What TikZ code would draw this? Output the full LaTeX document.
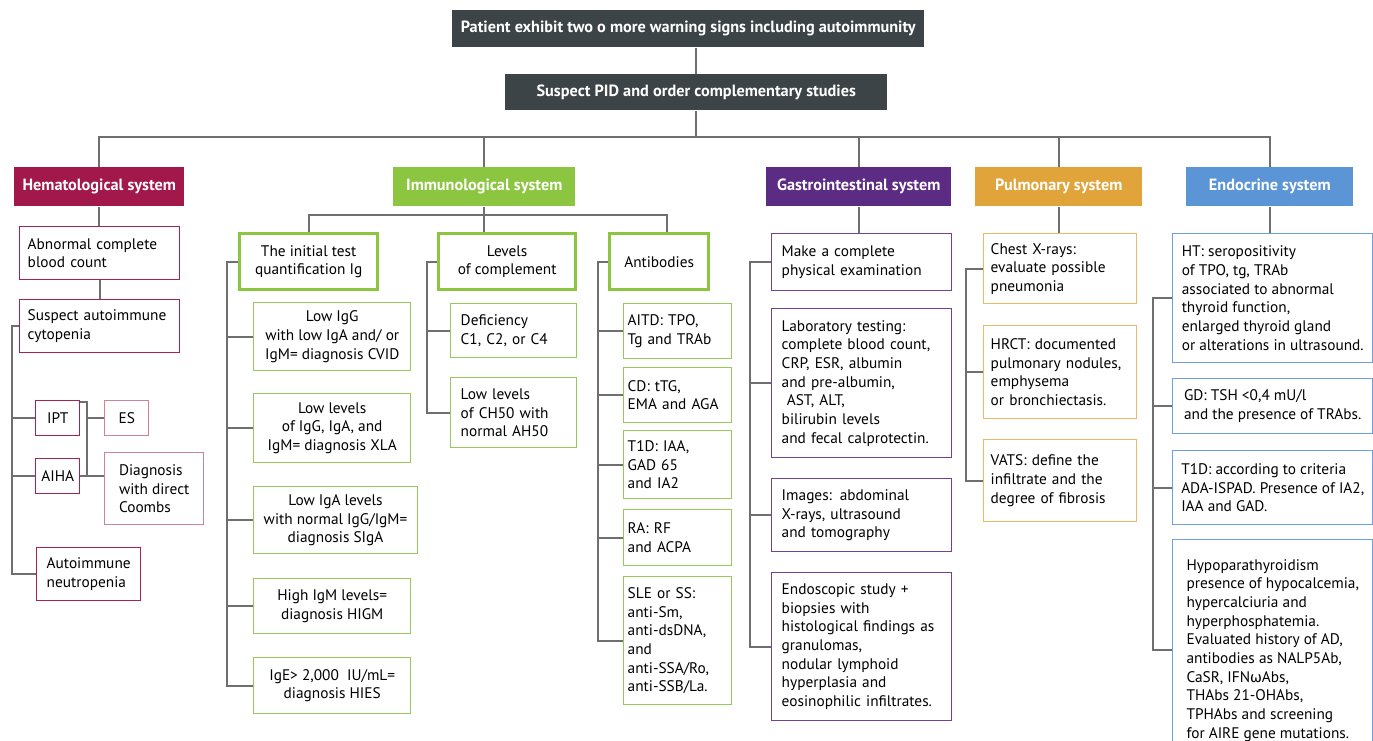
\documentclass[tikz,border=0pt]{standalone}
\usepackage{fontspec}
\setmainfont{PT Sans}
\newfontfamily\greekfont{DejaVu Sans}[Scale=0.92]
\usepackage{xcolor}
\usetikzlibrary{calc}
\usetikzlibrary{positioning}

\definecolor{darkbox}{HTML}{3D4447}
\definecolor{linegray}{HTML}{6F6F6F}
\definecolor{hemc}{HTML}{A3184A}
\definecolor{hemsub}{HTML}{A8224F}
\definecolor{hemlt}{HTML}{CC8597}
\definecolor{immc}{HTML}{8CC540}
\definecolor{immlt}{HTML}{96C95A}
\definecolor{gasc}{HTML}{5C2B84}
\definecolor{gassub}{HTML}{6E4399}
\definecolor{pulc}{HTML}{E0A43B}
\definecolor{pullt}{HTML}{EBBA66}
\definecolor{endc}{HTML}{5B95D5}
\definecolor{endlt}{HTML}{6CA1DD}

\newcommand{\bodyfont}{\fontsize{11.5}{14}\selectfont}
\newcommand{\headfont}{\fontsize{12.2}{14}\selectfont\bfseries}

\begin{document}
\begin{tikzpicture}[x=0.75pt,y=-0.75pt,
	bw/.style={minimum width=#1*0.75pt},
	bh/.style={minimum height=#1*0.75pt},
	tw/.style={text width=#1*0.75pt},
	pad/.style={inner xsep=#1*0.75pt},
	conn/.style={draw=linegray,line width=1.3pt},
	topbox/.style={fill=darkbox,text=white,font=\headfont,inner sep=0pt,anchor=north west},
	hdr/.style={fill=#1,text=white,font=\headfont,minimum height=39*0.75pt,inner sep=0pt,anchor=north west},
	sbox/.style={draw=#1,fill=white,line width=1.1pt,font=\bodyfont,align=left,inner xsep=7.5pt,inner ysep=2pt,anchor=north west},
	ibox/.style={draw=immc,fill=white,line width=2.5pt,font=\bodyfont,align=center,inner sep=2pt,anchor=north west}]
	\useasboundingbox (0,0) rectangle (1373,740);
	
	% top of the tree
	\node[topbox,bw=472,bh=37] (warn) at (452,10) {Patient exhibit two o more warning signs including autoimmunity};
	\node[topbox,bw=382,bh=36] (pid) at (505,74) {Suspect PID and order complementary studies};
	\draw[conn] (pid.north) -- (pid.north |- warn.south);
	\coordinate (bus) at (697,137);
	\draw[conn] (pid.south) -- (pid.south |- bus);
	
	% systems
	\node[hdr=hemc,bw=170] (hem) at (14,167) {Hematological system};
	\node[hdr=immc,bw=182] (imm) at (393,167) {Immunological system};
	\node[hdr=gasc,bw=185] (gas) at (766,167) {Gastrointestinal system};
	\node[hdr=pulc,bw=167] (pul) at (975,167) {Pulmonary system};
	\node[hdr=endc,bw=167] (endo) at (1186,167) {Endocrine system};
	\draw[conn] (hem.north) -- (hem.north |- bus) -- (endo.north |- bus) -- (endo.north);
	\foreach \s in {imm,gas,pul}
	\draw[conn] (\s.north) -- (\s.north |- bus);
	
	% hematological
	\node[sbox=hemsub,tw=144,pad=8,bh=53] (abn) at (19,226) {Abnormal complete\\blood count};
	\node[sbox=hemsub,tw=144,pad=8,bh=53] (sus) at (19,299) {Suspect autoimmune\\cytopenia};
	\node[sbox=hemsub,bw=44,bh=35,pad=0,align=center] (ipt) at (35,400) {IPT};
	\node[sbox=hemlt,bw=44,bh=35,pad=0,align=center] (es) at (104,400) {ES};
	\node[sbox=hemsub,bw=44,bh=35,pad=0,align=center] (aiha) at (35,458) {AIHA};
	\node[sbox=hemlt,bw=99,bh=72] (coombs) at (104,452) {Diagnosis\\with direct\\Coombs};
	\node[sbox=hemsub,bw=103,bh=53] (neu) at (36,547) {Autoimmune\\neutropenia};
	\draw[conn] (hem.south) -- (hem.south |- abn.north);
	\draw[conn] (abn.south) -- (abn.south |- sus.north);
	\draw[conn] (sus.west) -- ++(-7,0) coordinate (hb) |- (neu.west);
	\draw[conn] (hb |- ipt.west) -- (ipt.west);
	\draw[conn] (hb |- aiha.west) -- (aiha.west);
	\coordinate (br) at (87,402);
	\draw[conn] (ipt.east |- br) -- (br) |- (aiha.east);
	\draw[conn] (br |- es.west) -- (es.west);
	\draw[conn] (aiha.east) -- (aiha.east -| coombs.west);
	
	% immunological
	\node[ibox,bw=138,bh=56] (init) at (238,232) {The initial test\\quantification Ig};
	\node[ibox,bw=137,bh=56] (compl) at (437,232) {Levels\\of complement};
	\node[ibox,bw=99,bh=56] (anti) at (608,232) {Antibodies};
	\draw[conn] (imm.south) -- (imm.south |- compl.north);
	\draw[conn] (init.north) -- ++(0,-17) -| ([xshift=6pt]anti.north);
	
	\node[sbox=immlt,bw=157,bh=68,align=center] (cvid) at (253,302) {Low IgG\\with low IgA and/ or\\IgM= diagnosis CVID};
	\node[sbox=immlt,bw=157,bh=69,align=center] (xla) at (253,393) {Low levels\\of IgG, IgA, and\\IgM= diagnosis XLA};
	\node[sbox=immlt,bw=157,bh=67,align=center] (siga) at (253,486) {Low IgA levels\\with normal IgG/IgM=\\diagnosis SIgA};
	\node[sbox=immlt,bw=157,bh=55,align=center] (higm) at (253,578) {High IgM levels=\\diagnosis HIGM};
	\node[sbox=immlt,bw=157,bh=56,align=center] (hies) at (253,657) {IgE> 2,000\ \ IU/mL=\\diagnosis HIES};
	\draw[conn] (init.west) -- ++(-11,0) coordinate (ib) |- (hies.west);
	\foreach \n in {cvid,xla,siga,higm}
	\draw[conn] (ib |- \n.west) -- (\n.west);
	
	\node[sbox=immlt,tw=106,bh=54] (defc) at (450,303) {Deficiency\\C1, C2, or C4};
	\node[sbox=immlt,tw=106,bh=70] (ch50) at (450,377) {Low levels\\of CH50 with\\normal AH50};
	\draw[conn] (compl.west) -- ++(-10,0) coordinate (cb) |- (ch50.west);
	\draw[conn] (cb |- defc.west) -- (defc.west);
	
	\node[sbox=immlt,tw=100,pad=4,bh=55] (aitd) at (623,303) {AITD: TPO,\\Tg and TRAb};
	\node[sbox=immlt,tw=100,pad=4,bh=55] (cd) at (623,367) {CD: tTG,\\EMA and AGA};
	\node[sbox=immlt,tw=100,pad=4,bh=68] (t1d) at (623,430) {T1D: IAA,\\GAD 65\\and IA2};
	\node[sbox=immlt,tw=100,pad=4,bh=56] (ra) at (623,509) {RA: RF\\and ACPA};
	\node[sbox=immlt,tw=100,pad=4,bh=128] (sle) at (623,576) {SLE or SS:\\anti-Sm,\\anti-dsDNA,\\and\\anti-SSA/Ro,\\anti-SSB/La.};
	\draw[conn] (anti.west) -- ++(-10,0) coordinate (ab) |- (sle.west);
	\foreach \n in {aitd,cd,t1d,ra}
	\draw[conn] (ab |- \n.west) -- (\n.west);
	
	% gastrointestinal
	\node[sbox=gassub,tw=160,bh=57] (make) at (771,233) {Make a complete\\physical examination};
	\node[sbox=gassub,tw=160,bh=149] (lab) at (771,308) {Laboratory testing:\\complete blood count,\\CRP, ESR, albumin\\and pre-albumin,\\\ AST, ALT,\\bilirubin levels\\and fecal calprotectin.};
	\node[sbox=gassub,tw=160,bh=73] (imgs) at (771,478) {Images: abdominal\\X-rays, ultrasound\\and tomography};
	\node[sbox=gassub,tw=160,bh=148] (endos) at (771,572) {Endoscopic study +\\biopsies with\\histological findings as\\granulomas,\\nodular lymphoid\\hyperplasia and\\eosinophilic infiltrates.};
	\draw[conn] (gas.south) -- (gas.south |- make.north);
	\draw[conn] (make.west) -- ++(-21,0) coordinate (gb) |- (endos.west);
	\foreach \n in {lab,imgs}
	\draw[conn] (gb |- \n.west) -- (\n.west);
	
	% pulmonary
	\node[sbox=pullt,tw=139,pad=7,bh=70] (chest) at (983,233) {Chest X-rays:\\evaluate possible\\pneumonia};
	\node[sbox=pullt,tw=139,pad=7,bh=93] (hrct) at (983,325) {HRCT: documented\\pulmonary nodules,\\emphysema\\or bronchiectasis.};
	\node[sbox=pullt,tw=139,pad=7,bh=82] (vats) at (983,439) {VATS: define the\\infiltrate and the\\degree of fibrosis};
	\draw[conn] (pul.south) -- (pul.south |- chest.north);
	\draw[conn] (chest.west) -- ++(-17,0) coordinate (pb) |- (vats.west);
	\draw[conn] (pb |- hrct.west) -- (hrct.west);
	
	% endocrine
	\node[sbox=endlt,bw=200,pad=4,bh=129] (ht) at (1172,233) {HT: seropositivity\\of TPO, tg, TRAb\\associated to abnormal\\thyroid function,\\enlarged thyroid gland\\or alterations in ultrasound.};
	\node[sbox=endlt,bw=200,pad=4,bh=55] (gd) at (1172,378) {GD: TSH <0,4 mU/l\\and the presence of TRAbs.};
	\node[sbox=endlt,bw=200,pad=4,bh=74] (t1) at (1172,450) {T1D: according to criteria\\ADA-ISPAD. Presence of IA2,\\IAA and GAD.};
	\node[sbox=endlt,bw=200,pad=4,bh=221] (hypo) at (1172,539) {Hypoparathyroidism\\presence of hypocalcemia,\\hypercalciuria and\\hyperphosphatemia.\\Evaluated history of AD,\\antibodies as NALP5Ab,\\CaSR, IFN{\greekfont ω}Abs,\\THAbs 21-OHAbs,\\TPHAbs and screening\\for AIRE gene mutations.};
	\draw[conn] (endo.south) -- (endo.south |- ht.north);
	\draw[conn] (ht.west) -- ++(-19,0) coordinate (eb) |- (hypo.west);
	\foreach \n in {gd,t1}
	\draw[conn] (eb |- \n.west) -- (\n.west);
\end{tikzpicture}
\end{document}
